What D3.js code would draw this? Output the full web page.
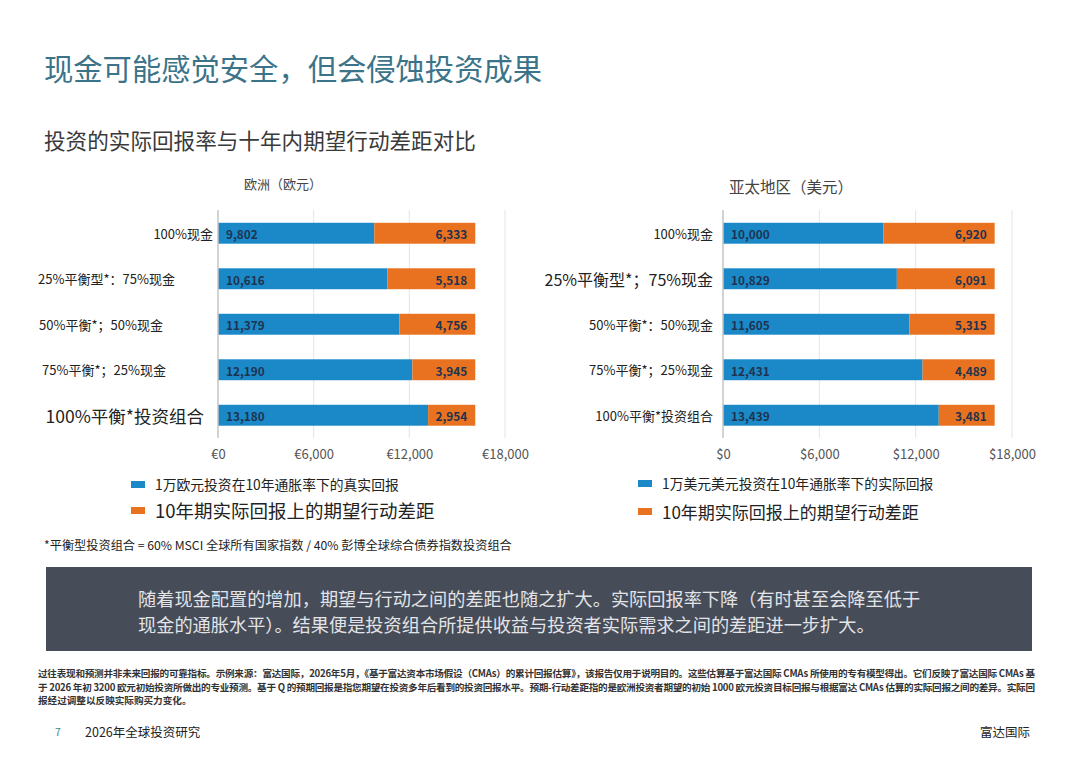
<!DOCTYPE html>
<html><head><meta charset="utf-8">
<script src="https://cdn.jsdelivr.net/npm/d3@7"></script>
<style>
html,body{margin:0;padding:0;background:#fff;}
svg text{font-family:"Noto Sans CJK SC","Noto Sans",sans-serif;}
</style></head>
<body><svg id="c" width="1080" height="764"></svg>
<script>
// ---- data ----
const euCategories = ["100%现金","25%平衡型*：75%现金","50%平衡*；50%现金","75%平衡*；25%现金","100%平衡*投资组合"];
const apCategories = ["100%现金","25%平衡型*；75%现金","50%平衡*：50%现金","75%平衡*；25%现金","100%平衡*投资组合"];
const euReal = [9802, 10616, 11379, 12190, 13180];
const euGap  = [6333, 5518, 4756, 3945, 2954];
const apReal = [10000, 10829, 11605, 12431, 13439];
const apGap  = [6920, 6091, 5315, 4489, 3481];
const xTicks = [0, 6000, 12000, 18000];
const euLegend = ["1万欧元投资在10年通胀率下的真实回报","10年期实际回报上的期望行动差距"];
const apLegend = ["1万美元美元投资在10年通胀率下的实际回报","10年期实际回报上的期望行动差距"];

// ---- layout / style ----
const C_BLUE = "#1b89c8", C_ORANGE = "#e8721f", C_VAL = "#1e3350";
const svg = d3.select("#c");

svg.append("text").attr("x",44).attr("y",67).attr("dominant-baseline","central")
  .attr("font-size",29.3).attr("fill","#3b7389").text("现金可能感觉安全，但会侵蚀投资成果");
svg.append("text").attr("x",44).attr("y",139).attr("dominant-baseline","central")
  .attr("font-size",21.6).attr("fill","#3a3a3a").text("投资的实际回报率与十年内期望行动差距对比");

function drawChart(cfg){
  const x = d3.scaleLinear().domain([0,18000]).range([cfg.x0, cfg.x1]);
  const y = d3.scaleBand().domain(cfg.cats).range([210.5,438]).paddingInner(0.54).paddingOuter(0.27);
  const g = svg.append("g");
  g.append("text").attr("x",cfg.titleX).attr("y",cfg.titleY).attr("text-anchor","middle")
    .attr("dominant-baseline","central").attr("font-size",cfg.titleSize).attr("fill","#444").text(cfg.title);
  g.selectAll(".grid").data(xTicks.slice(1)).enter().append("line")
    .attr("x1",d=>x(d)).attr("x2",d=>x(d)).attr("y1",210).attr("y2",438)
    .attr("stroke","#e4e4e4").attr("stroke-width",1);
  const ax = d3.axisBottom(x).tickValues(xTicks).tickSize(0)
    .tickFormat(d=>cfg.cur + d3.format(",")(d));
  const axg = g.append("g").attr("transform","translate(0,447)").call(ax);
  axg.select(".domain").remove();
  axg.selectAll("text").attr("font-size",13).attr("fill","#555")
    .attr("font-family","'Noto Sans','Noto Sans CJK SC',sans-serif").attr("dy","0.71em");
  const rows = cfg.cats.map((c,i)=>({cat:c, real:cfg.real[i], gap:cfg.gap[i]}));
  const stack = d3.stack().keys(["real","gap"])(rows);
  const colors = {real:C_BLUE, gap:C_ORANGE};
  stack.forEach(layer=>{
    g.selectAll(null).data(layer).enter().append("rect")
      .attr("x",d=>x(d[0])).attr("width",d=>x(d[1])-x(d[0]))
      .attr("y",d=>y(d.data.cat)).attr("height",y.bandwidth())
      .attr("fill",colors[layer.key]);
  });
  g.append("line").attr("x1",x(0)).attr("x2",x(0)).attr("y1",210).attr("y2",438)
    .attr("stroke","#c4c4c4").attr("stroke-width",1.5);
  const vf = d3.format(",");
  g.selectAll(null).data(stack[0]).enter().append("text")
    .attr("x",d=>x(d[0])+8).attr("y",d=>y(d.data.cat)+y.bandwidth()/2+0.5)
    .attr("dominant-baseline","central").attr("font-size",11.8).attr("font-weight","bold")
    .attr("font-family","'Noto Sans',sans-serif").attr("fill",C_VAL).text(d=>vf(d.data.real));
  g.selectAll(null).data(stack[1]).enter().append("text")
    .attr("x",d=>x(d[1])-8).attr("y",d=>y(d.data.cat)+y.bandwidth()/2+0.5).attr("text-anchor","end")
    .attr("dominant-baseline","central").attr("font-size",11.8).attr("font-weight","bold")
    .attr("font-family","'Noto Sans',sans-serif").attr("fill",C_VAL).text(d=>vf(d.data.gap));
  g.selectAll(null).data(cfg.cats).enter().append("text")
    .attr("x",(d,i)=>x(0)-cfg.labelGap[i]).attr("y",d=>y(d)+y.bandwidth()/2)
    .attr("text-anchor","end").attr("dominant-baseline","central")
    .attr("font-size",(d,i)=>cfg.labelSize[i]).attr("fill","#222").text(d=>d);
  const lg = g.append("g");
  cfg.legend.forEach((t,i)=>{
    const ly = cfg.legendY[i];
    lg.append("rect").attr("x",cfg.legendX).attr("y",ly-3).attr("width",14).attr("height",7)
      .attr("fill",i===0?C_BLUE:C_ORANGE);
    lg.append("text").attr("x",cfg.legendX+24).attr("y",ly).attr("dominant-baseline","central")
      .attr("font-size",cfg.legendSize[i]).attr("fill","#222").text(t);
  });
}

drawChart({cats:euCategories, real:euReal, gap:euGap, x0:218, x1:505, cur:"€",
  title:"欧洲（欧元）", titleX:283, titleY:183, titleSize:13,
  labelGap:[5,43,55,52,14], labelSize:[13,13,13,13,17.5],
  legend:euLegend, legendX:131, legendY:[484,510], legendSize:[13.8,18.5]});
drawChart({cats:apCategories, real:apReal, gap:apGap, x0:723, x1:1012, cur:"$",
  title:"亚太地区（美元）", titleX:791, titleY:186, titleSize:15.5,
  labelGap:[10,10,10,10,10], labelSize:[13,16,13,13,13],
  legend:apLegend, legendX:638, legendY:[483,511], legendSize:[13.8,17]});

svg.append("text").attr("x",44).attr("y",545).attr("dominant-baseline","central")
  .attr("font-size",12.2).attr("fill","#222")
  .text("*平衡型投资组合 = 60% MSCI 全球所有国家指数 / 40% 彭博全球综合债券指数投资组合");

svg.append("rect").attr("x",46).attr("y",567).attr("width",986).attr("height",84).attr("fill","#464c58");
const boxLines = ["随着现金配置的增加，期望与行动之间的差距也随之扩大。实际回报率下降（有时甚至会降至低于",
                  "现金的通胀水平）。结果便是投资组合所提供收益与投资者实际需求之间的差距进一步扩大。"];
boxLines.forEach((t,i)=>svg.append("text").attr("x",138).attr("y",598+i*26).attr("dominant-baseline","central")
  .attr("font-size",18.2).attr("fill","#e2e4e8").text(t));

const foot = ["过往表现和预测并非未来回报的可靠指标。示例来源：富达国际，2026年5月，《基于富达资本市场假设（CMAs）的累计回报估算》，该报告仅用于说明目的。这些估算基于富达国际 CMAs 所使用的专有模型得出。它们反映了富达国际 CMAs 基",
  "于 2026 年初 3200 欧元初始投资所做出的专业预测。基于 Q 的预期回报是指您期望在投资多年后看到的投资回报水平。预期-行动差距指的是欧洲投资者期望的初始 1000 欧元投资目标回报与根据富达 CMAs 估算的实际回报之间的差异。实际回",
  "报经过调整以反映实际购买力变化。"];
foot.forEach((t,i)=>{
  const tx = svg.append("text").attr("x",38).attr("y",673+i*13.5).attr("dominant-baseline","central")
    .attr("font-size",9.6).attr("font-weight","bold").attr("fill","#333").text(t);
  if(i<2) tx.attr("textLength",997).attr("lengthAdjust","spacing");
});
svg.append("text").attr("x",55).attr("y",731).attr("dominant-baseline","central")
  .attr("font-size",10.5).attr("fill","#3a8a8a").text("7");
svg.append("text").attr("x",85).attr("y",731).attr("dominant-baseline","central")
  .attr("font-size",12.5).attr("fill","#222").text("2026年全球投资研究");
svg.append("text").attr("x",1030).attr("y",731).attr("text-anchor","end").attr("dominant-baseline","central")
  .attr("font-size",12.5).attr("fill","#222").text("富达国际");
</script></body></html>
